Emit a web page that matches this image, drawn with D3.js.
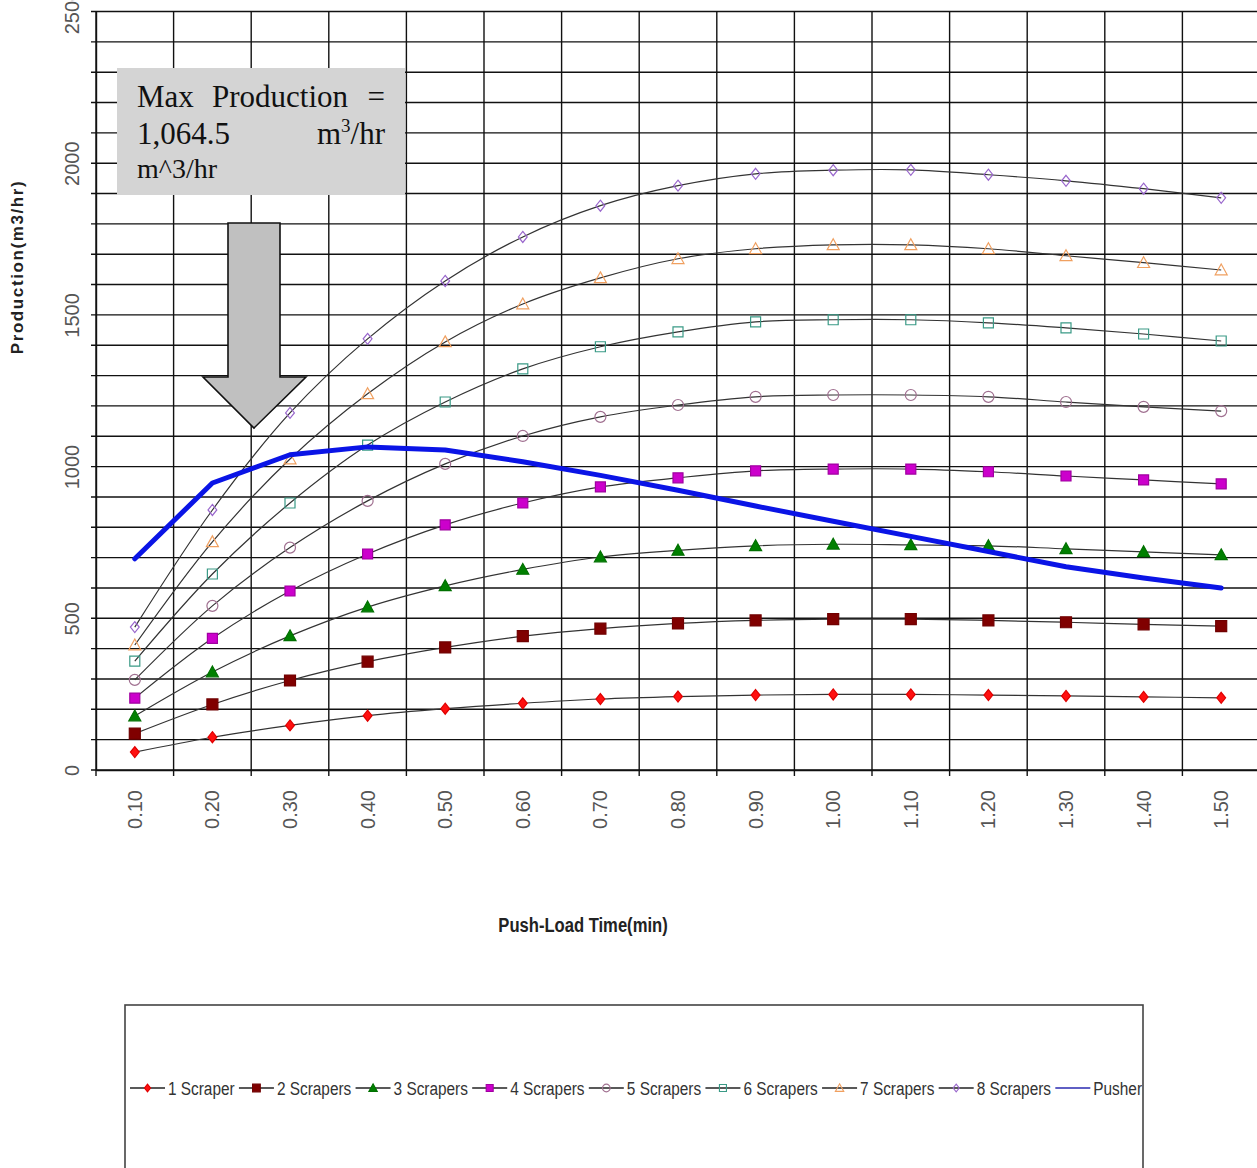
<!DOCTYPE html>
<html>
<head>
<meta charset="utf-8">
<script src="https://cdn.jsdelivr.net/npm/d3@7"></script>
<style>
  html, body { margin: 0; padding: 0; background: #fff; }
  svg { display: block; }
</style>
</head>
<body>
<svg id="chart" width="1257" height="1168"></svg>
<script>
// ---------- DATA ----------
const categories = ["0.10","0.20","0.30","0.40","0.50","0.60","0.70","0.80","0.90","1.00","1.10","1.20","1.30","1.40","1.50"];
const scraper1 = [59,108,147,179,202,220,234,242,247,249,249,247,244,241,238];
const scraper2 = [120,216,295,357,404,441,466,483,493,497,497,493,487,480,474];
const scraper3 = [178,323,442,537,607,661,702,724,739,744,742,739,729,719,709];
const scraper4 = [237,434,590,712,808,880,933,963,986,992,992,983,969,956,943];
const scraper5 = [297,541,733,887,1009,1101,1164,1203,1230,1236,1236,1230,1213,1197,1183];
const scraper6 = [359,646,880,1071,1213,1322,1395,1444,1477,1484,1484,1474,1457,1437,1414];
const scraper7 = [412,752,1025,1240,1411,1536,1622,1685,1718,1731,1731,1718,1695,1672,1648];
const scraper8 = [471,857,1177,1421,1612,1757,1860,1926,1965,1977,1978,1962,1942,1916,1886];
const pusher   = [696,946,1039,1065,1055,1016,971,922,870,820,770,720,670,633,600];
const seriesNames = ["1 Scraper","2 Scrapers","3 Scrapers","4 Scrapers","5 Scrapers","6 Scrapers","7 Scrapers","8 Scrapers","Pusher"];
const yTickLabels = [0,500,1000,1500,2000,2500];
const annotationLines = ["Max  Production  =", "1,064.5", "m^3/hr"];

// ---------- STYLE ----------
const styles = [
  {shape:"diamond",  fill:"#ff1010", stroke:"#e00000", s:5.5},
  {shape:"square",   fill:"#800000", stroke:"#700000", s:5.5},
  {shape:"triangle", fill:"#008000", stroke:"#007000", s:6},
  {shape:"square",   fill:"#cc00cc", stroke:"#a000a0", s:5},
  {shape:"circle",   fill:"none",    stroke:"#a07090", s:5.5},
  {shape:"square",   fill:"none",    stroke:"#3a9a86", s:5},
  {shape:"triangle", fill:"none",    stroke:"#f0a060", s:6},
  {shape:"diamond",  fill:"none",    stroke:"#9966cc", s:5.5}
];
const seriesValues = [scraper1,scraper2,scraper3,scraper4,scraper5,scraper6,scraper7,scraper8];

function markerPath(shape, s) {
  switch (shape) {
    case "diamond":  return `M0,${-s}L${s*0.8},0L0,${s}L${-s*0.8},0Z`;
    case "square":   return `M${-s},${-s}h${2*s}v${2*s}h${-2*s}Z`;
    case "triangle": return `M0,${-s}L${s},${s*0.8}L${-s},${s*0.8}Z`;
    case "circle":   return `M${s},0A${s},${s},0,1,1,${-s},0A${s},${s},0,1,1,${s},0Z`;
  }
}

const sans = "'Liberation Sans', Arial, sans-serif";
const serif = "'Liberation Serif', 'Times New Roman', serif";
const narrowScale = 0.81;

const svg = d3.select("#chart");
const plot = {left:96, right:1260, top:11.5, bottom:770};

const x = d3.scaleBand().domain(categories).range([plot.left, plot.right]).padding(0);
const y = d3.scaleLinear().domain([0,2500]).range([plot.bottom, plot.top]);

// ---------- GRID ----------
const grid = svg.append("g");
grid.selectAll("line.h").data(d3.range(0, 2501, 100)).join("line")
  .attr("x1", plot.left - 5).attr("x2", plot.right)
  .attr("y1", d => y(d)).attr("y2", d => y(d))
  .attr("stroke", "#111").attr("stroke-width", 1.4);
const bounds = categories.map(c => x(c)).concat([plot.right]);
grid.selectAll("line.v").data(bounds).join("line")
  .attr("x1", d => d).attr("x2", d => d)
  .attr("y1", plot.top).attr("y2", plot.bottom + 6)
  .attr("stroke", "#111").attr("stroke-width", 1.4);

// ---------- AXES ----------
const yAxis = d3.axisLeft(y).tickValues(yTickLabels).tickFormat(d3.format("d")).tickSize(0).tickPadding(0);
const yg = svg.append("g").attr("transform", `translate(${plot.left},0)`).call(yAxis);
yg.select(".domain").attr("stroke", "#111").attr("stroke-width", 1.4);
yg.selectAll(".tick text")
  .attr("x", 0).attr("y", 0).attr("dy", null)
  .attr("transform", "translate(-24,0) rotate(-90)")
  .attr("text-anchor", "middle")
  .attr("dominant-baseline", "central")
  .attr("font-family", sans)
  .attr("font-size", 20).attr("fill", "#555");

const xAxis = d3.axisBottom(x).tickSize(0).tickPadding(0);
const xg = svg.append("g").attr("transform", `translate(0,${plot.bottom})`).call(xAxis);
xg.select(".domain").attr("stroke", "#111").attr("stroke-width", 1.4);
xg.selectAll(".tick text")
  .attr("x", 0).attr("y", 0).attr("dy", null)
  .attr("transform", "translate(0,20) rotate(-90)")
  .attr("text-anchor", "end")
  .attr("dominant-baseline", "central")
  .attr("font-family", sans)
  .attr("font-size", 20).attr("fill", "#555");

// axis titles
svg.append("text")
  .attr("transform", `translate(17,267) rotate(-90)`)
  .attr("text-anchor", "middle").attr("dominant-baseline", "central")
  .attr("font-family", sans)
  .attr("font-weight", "bold").attr("font-size", 17).attr("letter-spacing", 1.6)
  .attr("fill", "#222")
  .text("Production(m3/hr)");

svg.append("g").attr("transform", `translate(583,932) scale(${narrowScale},1)`)
  .append("text")
  .attr("x", 0).attr("y", 0)
  .attr("text-anchor", "middle")
  .attr("font-family", sans)
  .attr("font-weight", "bold").attr("font-size", 20.5).attr("fill", "#222")
  .text("Push-Load Time(min)");

// ---------- SERIES ----------
const cx = (d, i) => x(categories[i]) + x.bandwidth() / 2;
const lineSmooth = d3.line().x(cx).y(d => y(d)).curve(d3.curveCatmullRom.alpha(0.5));
const lineStraight = d3.line().x(cx).y(d => y(d));

const sg = svg.append("g");
seriesValues.forEach((vals, k) => {
  sg.append("path").attr("d", lineSmooth(vals))
    .attr("fill", "none").attr("stroke", "#333").attr("stroke-width", 1.2);
});
seriesValues.forEach((vals, k) => {
  const st = styles[k];
  sg.append("g").selectAll("path").data(vals).join("path")
    .attr("transform", (d, i) => `translate(${cx(d, i)},${y(d)})`)
    .attr("d", markerPath(st.shape, st.s))
    .attr("fill", st.fill).attr("stroke", st.stroke).attr("stroke-width", 1.2);
});
sg.append("path").attr("d", lineStraight(pusher))
  .attr("fill", "none").attr("stroke", "#0a14e6").attr("stroke-width", 5)
  .attr("stroke-linejoin", "round").attr("stroke-linecap", "round");

// ---------- ANNOTATION ----------
const ann = svg.append("g");
ann.append("rect").attr("x", 117).attr("y", 68).attr("width", 288).attr("height", 127)
  .attr("fill", "#d4d4d4");
const words1 = annotationLines[0].split(/\s+/);
ann.append("text").attr("x", 137).attr("y", 107).attr("font-family", serif).attr("font-size", 31).attr("fill", "#111").text(words1[0]);
ann.append("text").attr("x", 212).attr("y", 107).attr("font-family", serif).attr("font-size", 31).attr("fill", "#111").text(words1[1]);
ann.append("text").attr("x", 385).attr("y", 107).attr("text-anchor", "end").attr("font-family", serif).attr("font-size", 31).attr("fill", "#111").text(words1[2]);
ann.append("text").attr("x", 137).attr("y", 144).attr("font-family", serif).attr("font-size", 31).attr("fill", "#111").text(annotationLines[1]);
const unit = ann.append("text").attr("x", 385).attr("y", 144).attr("text-anchor", "end").attr("font-family", serif).attr("font-size", 31).attr("fill", "#111");
unit.append("tspan").text("m");
unit.append("tspan").attr("dy", -12).attr("font-size", 19).text("3");
unit.append("tspan").attr("dy", 12).text("/hr");
ann.append("text").attr("x", 137).attr("y", 178).attr("font-family", serif).attr("font-size", 28).attr("fill", "#111").text(annotationLines[2]);

// arrow
ann.append("path")
  .attr("d", "M228,223H280V377H306L254,428L203,377H228Z")
  .attr("fill", "#c0c0c0").attr("stroke", "#111").attr("stroke-width", 1.6).attr("stroke-linejoin", "miter");

// ---------- LEGEND ----------
const lg = svg.append("g");
lg.append("rect").attr("x", 125).attr("y", 1005).attr("width", 1018).attr("height", 200)
  .attr("fill", "#fff").attr("stroke", "#444").attr("stroke-width", 1.6);
const legendClip = svg.append("defs").append("clipPath").attr("id", "legclip");
legendClip.append("rect").attr("x", 126).attr("y", 1006).attr("width", 1016).attr("height", 198);
const items = lg.append("g").attr("clip-path", "url(#legclip)");
let lx = 130;
const ly = 1088;
const legendFont = 19;
seriesNames.forEach((name, k) => {
  const isPusher = k === seriesNames.length - 1;
  items.append("line").attr("x1", lx).attr("x2", lx + 35).attr("y1", ly).attr("y2", ly)
    .attr("stroke", isPusher ? "#2a2ab0" : "#222").attr("stroke-width", 1.5);
  if (!isPusher) {
    const st = styles[k];
    items.append("path").attr("transform", `translate(${lx + 17.5},${ly})`)
      .attr("d", markerPath(st.shape, st.s * 0.7))
      .attr("fill", st.fill).attr("stroke", st.stroke).attr("stroke-width", 1.1);
  }
  const tg = items.append("g").attr("transform", `translate(${lx + 38},${ly}) scale(${narrowScale},1)`);
  const t = tg.append("text").attr("x", 0).attr("y", 0).attr("dominant-baseline", "central")
    .attr("font-family", sans).attr("font-size", legendFont).attr("fill", "#333").text(name);
  lx = lx + 38 + t.node().getComputedTextLength() * narrowScale + 4.3;
});
</script>
</body>
</html>
